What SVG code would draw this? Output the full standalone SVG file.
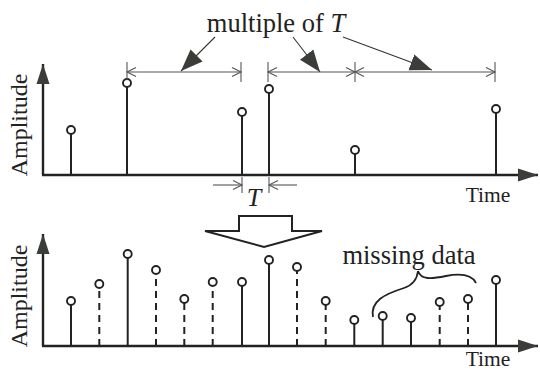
<svg xmlns="http://www.w3.org/2000/svg" width="540" height="371" viewBox="0 0 540 371">
<style>
.txt{font-family:"Liberation Serif","Times New Roman",serif;fill:#222}
.it{font-style:italic}
.axis{stroke:#222;stroke-width:2.4;fill:none}
.stem{stroke:#222;stroke-width:2;fill:none}
.dash{stroke:#222;stroke-width:2;fill:none;stroke-dasharray:7 5}
.dot{stroke:#222;stroke-width:1.9;fill:#fff}
.dim{stroke:#555;stroke-width:1.1;fill:none}
.pt{stroke:#333;stroke-width:1.1;fill:none}
.head{fill:#3a3d38}
</style>
<defs>
<marker id="fill" markerUnits="userSpaceOnUse" markerWidth="24" markerHeight="18" refX="22" refY="8.5" orient="auto" viewBox="0 0 24 17">
<path class="head" d="M0,0 L22,8.5 L0,17 Z"/>
</marker>
<marker id="ax" markerUnits="userSpaceOnUse" markerWidth="22" markerHeight="14" refX="20" refY="6.5" orient="auto" viewBox="0 0 22 13">
<path class="head" d="M0,0 L20,6.5 L0,13 Z"/>
</marker>
<marker id="open" markerUnits="userSpaceOnUse" markerWidth="12" markerHeight="12" refX="10" refY="5" orient="auto" viewBox="0 0 12 10">
<path d="M1,0.5 L10,5 L1,9.5" stroke="#555" stroke-width="1.1" fill="none"/>
</marker>
</defs>

<g id="top-chart">
<line class="axis" x1="43" y1="175" x2="43" y2="64" marker-end="url(#ax)"/>
<line class="axis" x1="42" y1="175" x2="538" y2="175" marker-end="url(#ax)"/>
<text class="txt" transform="translate(27,125) rotate(-90)" text-anchor="middle" font-size="24">Amplitude</text>
<text class="txt" x="488" y="202" text-anchor="middle" font-size="21.5">Time</text>
</g>

<g id="top-samples">
<line class="stem" x1="71" y1="175" x2="71" y2="134"/><circle class="dot" cx="71" cy="130" r="4"/>
<line class="stem" x1="127" y1="175" x2="127" y2="87"/><circle class="dot" cx="127" cy="83" r="4"/>
<line class="stem" x1="242" y1="175" x2="242" y2="116"/><circle class="dot" cx="242" cy="112" r="4"/>
<line class="stem" x1="269" y1="175" x2="269" y2="93"/><circle class="dot" cx="269" cy="89" r="4"/>
<line class="stem" x1="355" y1="175" x2="355" y2="154"/><circle class="dot" cx="355" cy="150" r="4"/>
<line class="stem" x1="496" y1="175" x2="496" y2="113"/><circle class="dot" cx="496" cy="109" r="4"/>
</g>

<g id="dimensions">
<line class="dim" x1="127" y1="62" x2="127" y2="80"/>
<line class="dim" x1="241" y1="62" x2="241" y2="82"/>
<line class="dim" x1="268" y1="62" x2="268" y2="82"/>
<line class="dim" x1="355" y1="62" x2="355" y2="82"/>
<line class="dim" x1="495" y1="62" x2="495" y2="82"/>
<line class="dim" x1="184" y1="72" x2="127" y2="72" marker-end="url(#open)"/>
<line class="dim" x1="184" y1="72" x2="241" y2="72" marker-end="url(#open)"/>
<line class="dim" x1="311" y1="72" x2="268" y2="72" marker-end="url(#open)"/>
<line class="dim" x1="311" y1="72" x2="355" y2="72" marker-end="url(#open)"/>
<line class="dim" x1="425" y1="72" x2="355" y2="72" marker-end="url(#open)"/>
<line class="dim" x1="425" y1="72" x2="495" y2="72" marker-end="url(#open)"/>
<line class="dim" x1="242" y1="177" x2="242" y2="193"/>
<line class="dim" x1="269" y1="177" x2="269" y2="193"/>
<line class="dim" x1="213" y1="185" x2="242" y2="185" marker-end="url(#open)"/>
<line class="dim" x1="297" y1="185" x2="269" y2="185" marker-end="url(#open)"/>
<text class="txt it" x="254" y="206" text-anchor="middle" font-size="26">T</text>
</g>

<g id="label-multiple">
<text class="txt" x="276" y="31.5" text-anchor="middle" font-size="26.5">multiple of <tspan class="it">T</tspan></text>
</g>

<g id="connectors">
<line class="pt" x1="215" y1="37" x2="181" y2="71" marker-end="url(#fill)"/>
<line class="pt" x1="293" y1="37" x2="320" y2="72" marker-end="url(#fill)"/>
<line class="pt" x1="343" y1="37" x2="432" y2="70" marker-end="url(#fill)"/>
</g>

<g id="big-arrow">
<polygon points="239,216 292,216 292,231 322,231 264,247 205,231 239,231" fill="#fff" stroke="#222" stroke-width="2" stroke-linejoin="miter"/>
</g>

<g id="bottom-chart">
<line class="axis" x1="43" y1="346" x2="43" y2="234" marker-end="url(#ax)"/>
<line class="axis" x1="42" y1="346" x2="538" y2="346" marker-end="url(#ax)"/>
<text class="txt" transform="translate(27,296) rotate(-90)" text-anchor="middle" font-size="24">Amplitude</text>
<text class="txt" x="488" y="366" text-anchor="middle" font-size="21.5">Time</text>
</g>

<g id="bottom-samples">
<line class="stem" x1="71" y1="346" x2="71" y2="305"/><circle class="dot" cx="71" cy="301" r="4"/>
<line class="dash" x1="99.3" y1="346" x2="99.3" y2="288"/><circle class="dot" cx="99.3" cy="284" r="4"/>
<line class="stem" x1="127.7" y1="346" x2="127.7" y2="258"/><circle class="dot" cx="127.7" cy="254" r="4"/>
<line class="dash" x1="156" y1="346" x2="156" y2="274"/><circle class="dot" cx="156" cy="270" r="4"/>
<line class="dash" x1="184.3" y1="346" x2="184.3" y2="303"/><circle class="dot" cx="184.3" cy="299" r="4"/>
<line class="dash" x1="212.7" y1="346" x2="212.7" y2="286"/><circle class="dot" cx="212.7" cy="282" r="4"/>
<line class="stem" x1="242" y1="346" x2="242" y2="286"/><circle class="dot" cx="242" cy="282" r="4"/>
<line class="stem" x1="269" y1="346" x2="269" y2="264"/><circle class="dot" cx="269" cy="260" r="4"/>
<line class="dash" x1="297" y1="346" x2="297" y2="271"/><circle class="dot" cx="297" cy="267" r="4"/>
<line class="dash" x1="325.7" y1="346" x2="325.7" y2="305"/><circle class="dot" cx="325.7" cy="301" r="4"/>
<line class="stem" x1="354.3" y1="346" x2="354.3" y2="324"/><circle class="dot" cx="354.3" cy="320" r="4"/>
<line class="stem" x1="382.7" y1="346" x2="382.7" y2="320"/><circle class="dot" cx="382.7" cy="316" r="4"/>
<line class="stem" x1="411" y1="346" x2="411" y2="322"/><circle class="dot" cx="411" cy="318" r="4"/>
<line class="dash" x1="439.7" y1="346" x2="439.7" y2="306"/><circle class="dot" cx="439.7" cy="302" r="4"/>
<line class="dash" x1="468" y1="346" x2="468" y2="303"/><circle class="dot" cx="468" cy="299" r="4"/>
<line class="stem" x1="496" y1="346" x2="496" y2="284"/><circle class="dot" cx="496" cy="280" r="4"/>
</g>

<g id="missing-data">
<text class="txt" x="409" y="264" text-anchor="middle" font-size="26.5">missing data</text>
<path d="M373,317 C370,301 385,294 404,288 C413,285 417,280 418,271 C421,280 431,279 446,276 C462,273 472,275 476,283" stroke="#222" stroke-width="1.8" fill="none"/>
</g>
</svg>
